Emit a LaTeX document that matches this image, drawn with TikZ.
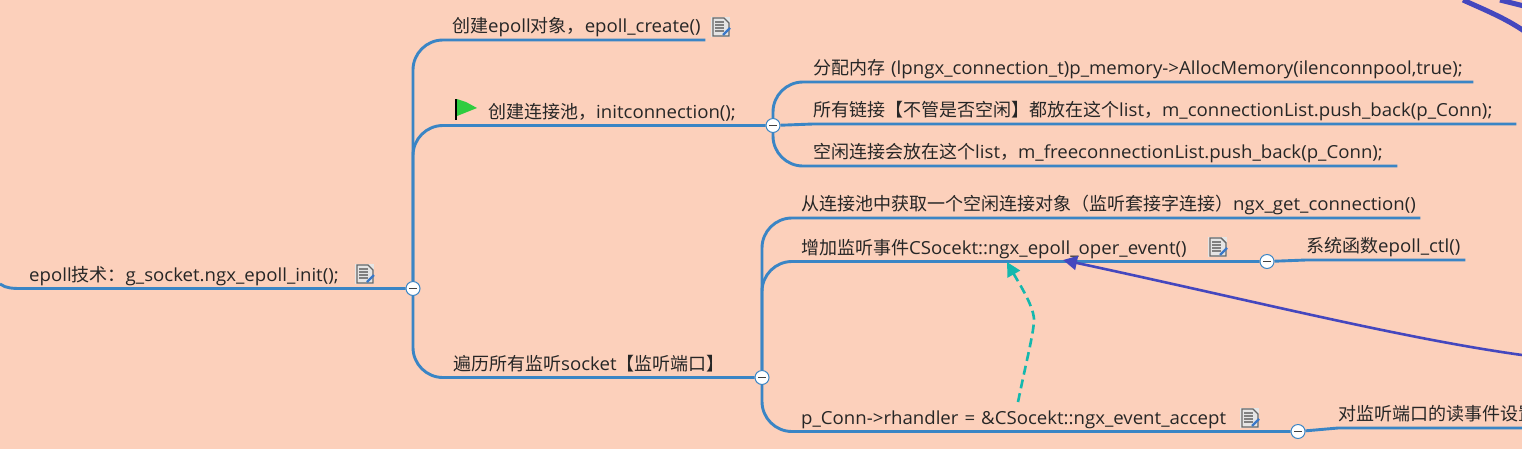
\documentclass[tikz,border=0pt]{standalone}
\usepackage{fontspec}
\setmainfont[FakeStretch=1.035]{Open Sans}
\newfontfamily\cjk{Noto Sans CJK SC}
\usetikzlibrary{arrows.meta}
\definecolor{paper}{HTML}{FCD0BB}
\definecolor{branchblue}{HTML}{3A85C5}
\definecolor{linkblue}{HTML}{4447BE}
\definecolor{linkteal}{HTML}{14B8AE}
\definecolor{flaggreen}{HTML}{2FCC40}
\definecolor{penblue}{HTML}{3A78C8}

\begin{document}
\begin{tikzpicture}[
    x=1pt, y=1pt,
    font=\fontsize{18}{22}\selectfont,
    % Topic styles
    topic/.style={anchor=south west, inner sep=0pt, text depth=7.3pt, text height=14pt,
        text width=#1, align=left, text=black!85},
    junction/.style={draw=branchblue, circle, fill=white, line width=1pt, inner sep=0pt, minimum size=14pt,
        path picture={\draw[line width=1.5pt, black!75]
            ([xshift=-4pt]path picture bounding box.center) -- ([xshift=4pt]path picture bounding box.center);}},
    branch/.style={draw=branchblue, line width=2.9pt},
    fork/.style={branch, rounded corners=30pt},
    relation/.style={line width=2.6pt, -{Triangle[length=14pt, width=14pt]}},
    % Markers
    noteicon/.pic={
        \fill[white!90!black] (-10,-10) rectangle (9,10);
        \draw[black!60, line width=1.4pt] (-8,-9) -- (-8,9) -- (3,9) -- (8,4) -- (8,-9) -- cycle;
        \foreach \k in {5,2,-1,-4} {
            \draw[black!50, line width=1.6pt] (-6,\k) -- (3,\k);
        }
        \draw[penblue, line width=2.4pt] (2,-8) -- (9,-1);
    },
    flagicon/.pic={
        \draw[black, line width=1.4pt] (0,0) -- (0,-21);
        \fill[flaggreen] (1,0) -- (10,-3) -- (21,-9) -- (11,-13) -- (1,-17) -- cycle;
    },
]

    \useasboundingbox (0,0) rectangle (1522,-448);
    \clip (-2,2) rectangle (1524,-450);
    \fill[paper] (-2,2) rectangle (1524,-450);

    % Junctions
    \node[junction] (hub0) at (413,-288.5) {};
    \node[junction] (hub1) at (773,-125.5) {};
    \node[junction] (hub2) at (762,-377.5) {};
    \node[junction] (hub3) at (1267,-261.5) {};
    \node[junction] (hub4) at (1298,-431.5) {};

    % First level
    \node[topic=330pt] (root) at (29,-288.5) {epoll{\cjk 技术：}g\_socket.ngx\_epoll\_init();};
    \node[topic=253pt] (create) at (452,-40) {{\cjk 创建}epoll{\cjk 对象，}epoll\_create()};
    \node[topic=270pt] (pool) at (488,-125.5) {{\cjk 创建连接池，}initconnection();};
    \node[topic=290pt] (listen) at (453,-377.5) {{\cjk 遍历所有监听}socket{\cjk 【监听端口】}};

    % Connection pool
    \node[topic=660pt] (alloc) at (813,-82) {{\cjk 分配内存 }(lpngx\_connection\_t)p\_memory->AllocMemory(ilenconnpool,true);};
    \node[topic=703pt] (alllist) at (813,-124) {{\cjk 所有链接【不管是否空闲】都放在这个}list{\cjk ，}m\_connectionList.push\_back(p\_Conn);};
    \node[topic=584pt] (freelist) at (813,-166) {{\cjk 空闲连接会放在这个}list{\cjk ，}m\_freeconnectionList.push\_back(p\_Conn);};

    % Listening sockets
    \node[topic=619pt] (getconn) at (801,-218) {{\cjk 从连接池中获取一个空闲连接对象（监听套接字连接）}ngx\_get\_connection()};
    \node[topic=440pt] (addevent) at (801,-261.5) {{\cjk 增加监听事件}CSocekt::ngx\_epoll\_oper\_event()};
    \node[topic=470pt] (rhandler) at (801,-431.5) {p\_Conn->rhandler = \&CSocekt::ngx\_event\_accept};
    \node[topic=159pt] (epollctl) at (1306,-260) {{\cjk 系统函数}epoll\_ctl()};
    \node[topic=300pt] (readevent) at (1338,-428) {{\cjk 对监听端口的读事件设置}};

    % Free ends
    \coordinate (rootin) at (0,-284);
    \coordinate (dashfrom) at (1018,-402);
    \coordinate (dashto) at (1007,-262);
    \coordinate (linkfrom) at (1522,-355);
    \coordinate (linkto) at (1063,-260);

    % Connections
    \draw[branch] (hub0) -- (root.south west) -- ++(-7,0) .. controls (14,-288.5) and (6,-288.5) .. (rootin);
    \draw[fork] (hub0) |- (create.south east);
    \draw[fork] (hub0) |- (hub1);
    \draw[fork] (hub0) |- (hub2);
    \draw[fork] (hub1) |- (alloc.south east);
    \draw[branch] (hub1) -- (alllist.south west) -- (alllist.south east);
    \draw[fork] (hub1) |- (freelist.south east);
    \draw[fork] (hub2) |- (getconn.south east);
    \draw[fork] (hub2) |- (hub3);
    \draw[fork] (hub2) |- (hub4);
    \draw[branch] (hub3) -- (epollctl.south west) -- (epollctl.south east);
    \draw[branch] (hub4) -- (readevent.south west) -- (readevent.south east);

    % Relations
    \draw[relation, draw=linkteal, dash pattern=on 9pt off 5pt]
        (dashfrom) .. controls (1027,-358) and (1034,-332) .. (1034,-319)
        .. controls (1033,-305) and (1020,-285) .. (dashto);
    \draw[relation, draw=linkblue]
        (linkfrom) .. controls (1400,-338) and (1250,-300) .. (linkto);
    \draw[linkblue, line width=5pt] (1463,0) .. controls (1485,-10) and (1505,-18) .. (1524,-31);
    \draw[linkblue, line width=5pt] (1500,0) -- (1524,-6);

    % Markers
    \foreach \px/\py in {721/-27, 365/-274, 1218/-247, 1250/-418} {
        \pic at (\px,\py) {noteicon};
    }
    \pic at (456,-99) {flagicon};

\end{tikzpicture}
\end{document}
